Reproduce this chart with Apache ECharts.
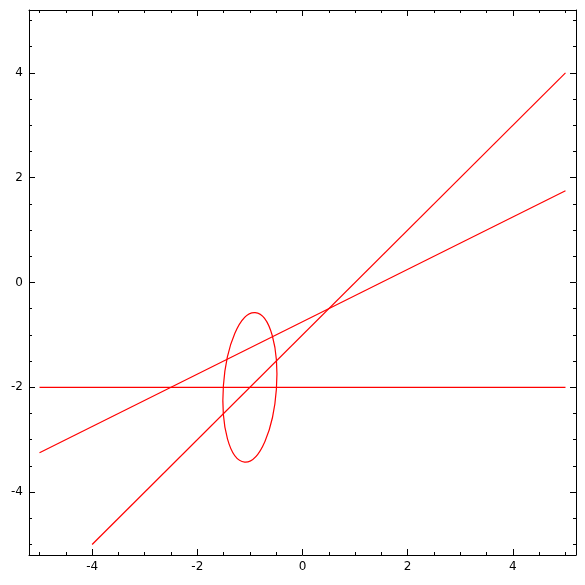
<!DOCTYPE html>
<html>
<head>
<meta charset="utf-8">
<script src="https://cdn.jsdelivr.net/npm/echarts@6/dist/echarts.min.js"></script>
<style>html,body{margin:0;padding:0;background:#fff}#c{width:585px;height:585px}</style>
</head>
<body>
<div id="c"></div>
<script>
// ---- data ----
const axisRange = [-5.2, 5.2];
const majorTicks = [-4, -2, 0, 2, 4];
const minorTicks = [-5, -4.5, -3.5, -3, -2.5, -1.5, -1, -0.5, 0.5, 1, 1.5, 2.5, 3, 3.5, 4.5, 5];
const lineHorizontal = [[-5, -2], [5, -2]];
const lineHalfSlope = [[-5, -3.25], [5, 1.75]];
const lineUnitSlope = [[-4, -5], [5, 4]];
// ellipse: center x, center y, semi-axis x, semi-axis y, tilt (deg, clockwise)
const ellipseParams = [[-1.0, -2.0, 0.505, 1.43, 4]];

const red = '#ff0000';
const font = 'DejaVu Sans';

function mkAxis(dim, pos, ticks, len, labels, line) {
  return {
    type: 'value', position: pos, min: axisRange[0], max: axisRange[1],
    gridIndex: 0,
    axisLine: { show: line, onZero: false, lineStyle: { color: '#000', width: 1 } },
    axisTick: { show: true, inside: true, length: len, customValues: ticks, lineStyle: { color: '#000', width: 1 } },
    axisLabel: labels ? { show: true, customValues: ticks, color: '#000', fontFamily: font, fontSize: 12, margin: 6 } : { show: false },
    splitLine: { show: false },
    minorTick: { show: false }
  };
}

const chart = echarts.init(document.getElementById('c'), null, { renderer: 'canvas' });
chart.setOption({
  animation: false,
  grid: { left: 29, right: 9, top: 10, bottom: 30, containLabel: false },
  xAxis: [
    mkAxis('x', 'bottom', majorTicks, 6, true, true),
    mkAxis('x', 'bottom', minorTicks, 3, false, false),
    mkAxis('x', 'top', majorTicks, 6, false, true),
    mkAxis('x', 'top', minorTicks, 3, false, false)
  ],
  yAxis: [
    mkAxis('y', 'left', majorTicks, 6, true, true),
    mkAxis('y', 'left', minorTicks, 3, false, false),
    mkAxis('y', 'right', majorTicks, 6, false, true),
    mkAxis('y', 'right', minorTicks, 3, false, false)
  ],
  series: [
    { type: 'line', data: lineHorizontal, symbol: 'none', lineStyle: { color: red, width: 1.2 } },
    { type: 'line', data: lineHalfSlope, symbol: 'none', lineStyle: { color: red, width: 1.2 } },
    { type: 'line', data: lineUnitSlope, symbol: 'none', lineStyle: { color: red, width: 1.2 } },
    {
      type: 'custom', data: ellipseParams,
      renderItem: function (params, api) {
        const c = api.coord([api.value(0), api.value(1)]);
        const s = api.size([api.value(2), api.value(3)]);
        return {
          type: 'ellipse',
          shape: { cx: c[0], cy: c[1], rx: s[0], ry: s[1] },
          rotation: -api.value(4) * Math.PI / 180,
          originX: c[0], originY: c[1],
          style: { fill: 'none', stroke: red, lineWidth: 1.2 }
        };
      }
    }
  ]
});
</script>
</body>
</html>
